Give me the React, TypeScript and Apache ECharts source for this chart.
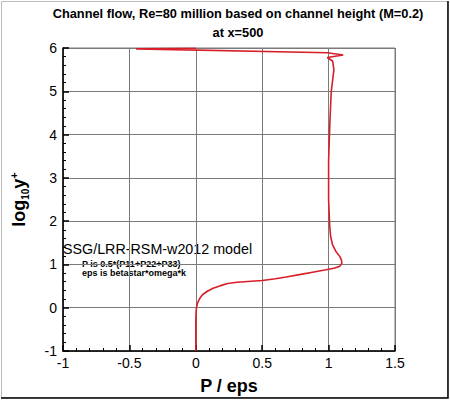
import React, { useEffect, useRef } from 'react';
import * as echarts from 'echarts';

// P/eps profile (log10 y+ from wall to the top)
const LOG_Y = [
  -1, -0.3, -0.1, 0, 0.1, 0.2, 0.3, 0.38, 0.45, 0.51, 0.56, 0.59, 0.63, 0.67,
  0.71, 0.77, 0.82, 0.87, 0.91, 0.96, 1.03, 1.1, 1.18, 1.3, 1.45, 1.65, 1.9,
  2.5, 3.4, 4.3, 5.0, 5.5, 5.7, 5.78, 5.84, 5.89, 5.98, 5.995,
];
const P_EPS = [
  0, 0, 0.002, 0.005, 0.012, 0.027, 0.05, 0.087, 0.13, 0.186, 0.24, 0.31, 0.5,
  0.6, 0.68, 0.79, 0.88, 0.97, 1.04, 1.085, 1.1, 1.097, 1.085, 1.055, 1.03,
  1.015, 1.008, 1.0, 1.0, 1.01, 1.02, 1.04, 1.03, 0.99, 1.11, 0.99, -0.45, 0,
];

const X_TICKS = [-1, -0.5, 0, 0.5, 1, 1.5];
const Y_TICKS = [-1, 0, 1, 2, 3, 4, 5, 6];

const TITLE = 'Channel flow, Re=80 million based on channel height (M=0.2)';
const SUBTITLE = 'at x=500';
const MODEL = 'SSG/LRR-RSM-w2012 model';
const NOTES = ['P is 0.5*(P11+P22+P33)', 'eps is betastar*omega*k'];

const FONT = '"Liberation Sans", Arial, Helvetica, sans-serif';

export default function App() {
  const chartRef = useRef<HTMLDivElement>(null);

  useEffect(() => {
    document.body.style.margin = '0';
    if (!chartRef.current) return;
    const chart = echarts.init(chartRef.current, null, { renderer: 'svg' });

    const gridLine = { show: true, lineStyle: { color: '#7a7a7a', width: 1 } };

    chart.setOption({
      animation: false,
      textStyle: { fontFamily: FONT },
      title: {
        text: TITLE,
        subtext: SUBTITLE,
        left: 233,
        top: 2,
        textAlign: 'center',
        itemGap: 6,
        textStyle: { fontSize: 12.8, fontWeight: 'bold', color: '#000', fontFamily: FONT },
        subtextStyle: { fontSize: 12.8, fontWeight: 'bold', color: '#000', fontFamily: FONT },
      },
      grid: {
        left: 59,
        right: 55,
        top: 48,
        bottom: 46,
        show: true,
        borderColor: '#7a7a7a',
        borderWidth: 1,
      },
      xAxis: {
        type: 'value',
        min: X_TICKS[0],
        max: X_TICKS[X_TICKS.length - 1],
        interval: 0.5,
        name: 'P / eps',
        nameLocation: 'middle',
        nameGap: 26,
        nameTextStyle: { fontSize: 18, fontWeight: 'bold', color: '#000' },
        axisLine: { onZero: false, lineStyle: { color: '#000', width: 1.5 } },
        axisTick: { inside: true, length: 6, lineStyle: { color: '#000', width: 1.5 } },
        minorTick: { show: true, splitNumber: 5, length: 3, lineStyle: { color: '#000' } },
        axisLabel: { fontSize: 14, color: '#000', margin: 5 },
        splitLine: gridLine,
      },
      yAxis: {
        type: 'value',
        min: Y_TICKS[0],
        max: Y_TICKS[Y_TICKS.length - 1],
        interval: 1,
        name: '{a|log}{b|10}{a|y}{c|+}',
        nameLocation: 'middle',
        nameRotate: 90,
        nameGap: 33,
        nameTextStyle: {
          color: '#000',
          rich: {
            a: { fontSize: 18, fontWeight: 'bold', lineHeight: 22, fontFamily: FONT },
            b: { fontSize: 10, fontWeight: 'bold', lineHeight: 10, verticalAlign: 'bottom', fontFamily: FONT },
            c: { fontSize: 11, fontWeight: 'bold', lineHeight: 11, verticalAlign: 'top', fontFamily: FONT },
          },
        },
        axisLine: { onZero: false, lineStyle: { color: '#000', width: 1.5 } },
        axisTick: { inside: true, length: 6, lineStyle: { color: '#000', width: 1.5 } },
        minorTick: { show: true, splitNumber: 5, length: 3, lineStyle: { color: '#000' } },
        axisLabel: { fontSize: 14, color: '#000', margin: 6 },
        splitLine: gridLine,
      },
      series: [
        {
          type: 'line',
          data: LOG_Y.map((y, i) => [P_EPS[i], y]),
          showSymbol: false,
          smooth: false,
          lineStyle: { color: '#d81e27', width: 1.6 },
          z: 5,
        },
      ],
      graphic: [
        {
          type: 'text',
          left: 63,
          top: 242,
          style: { text: MODEL, fontSize: 14.3, fill: '#000', fontFamily: FONT },
        },
        {
          type: 'text',
          left: 82,
          top: 259,
          style: {
            text: NOTES.join('\n'),
            fontSize: 9,
            lineHeight: 9.5,
            fontWeight: 'bold',
            fill: '#000',
            fontFamily: FONT,
          },
        },
        {
          type: 'rect',
          shape: { x: 1.5, y: 1.5, width: 446, height: 396 },
          style: { fill: 'none', stroke: '#bbb', lineWidth: 1 },
        },
        {
          type: 'polyline',
          shape: { points: [[448, 1], [448, 398], [1, 398]] },
          style: { fill: 'none', stroke: '#000', lineWidth: 1.5 },
        },
      ],
    });

    return () => {
      chart.dispose();
    };
  }, []);

  return <div ref={chartRef} style={{ width: '450px', height: '400px' }} />;
}
